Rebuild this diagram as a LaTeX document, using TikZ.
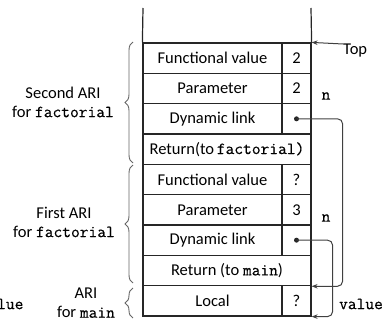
\documentclass[tikz,border=0pt]{standalone}
\usepackage{fontspec}
\setmainfont{Carlito}
\newfontfamily\codeface{Latin Modern Mono}[FakeBold=0.4]
\usetikzlibrary{calc,arrows.meta,decorations.pathreplacing}
% typewriter face for identifiers
\newcommand{\code}{\codeface\fontsize{17}{19}\selectfont}

\begin{document}
\begin{tikzpicture}[x=1pt,y=-1pt,
  every node/.style={font=\fontsize{16.5}{19}\selectfont, text=black},
  cell/.style={draw=black!85, line width=1.2pt, minimum height=30.33pt, inner sep=0pt},
  namecell/.style={cell, minimum width=139pt},
  valcell/.style={cell, minimum width=29pt},
  widecell/.style={cell, minimum width=168pt},
  wall/.style={draw=black!85, line width=1.2pt},
  linkdot/.style={circle, fill=black!85, inner sep=0pt, minimum size=5pt},
  link/.style={draw=black!75, line width=1pt, rounded corners=5pt,
               -{Stealth[length=6pt,width=4.5pt]}},
  ari/.style={draw=black!60, line width=0.9pt,
              decorate, decoration={brace, amplitude=8pt, aspect=0.5}},
  arilabel/.style={align=center, inner sep=0pt}]

\useasboundingbox (0,0) rectangle (386,321);

% second activation record of factorial (top of stack)
\node[namecell] (fv2)  at (212.5,58.17)  {Functional value};
\node[valcell]  (fv2v) at (296.5,58.17)  {2};
\node[namecell] (pa2)  at (212.5,88.5)   {Parameter};
\node[valcell]  (pa2v) at (296.5,88.5)   {2};
\node[namecell] (dl2)  at (212.5,118.83) {Dynamic link};
\node[valcell]  (dl2v) at (296.5,118.83) {};
\node[widecell] (rt2)  at (227,149.17)   {Return(to\,{\code factorial)}};

% first activation record of factorial
\node[namecell] (fv1)  at (212.5,179.5)  {Functional value};
\node[valcell]  (fv1v) at (296.5,179.5)  {?};
\node[namecell] (pa1)  at (212.5,209.83) {Parameter};
\node[valcell]  (pa1v) at (296.5,209.83) {3};
\node[namecell] (dl1)  at (212.5,240.17) {Dynamic link};
\node[valcell]  (dl1v) at (296.5,240.17) {};
\node[widecell] (rt1)  at (227,270.5)    {Return (to {\code main})};

% activation record of main
\node[namecell] (loc)  at (212.5,300.83) {Local};
\node[valcell]  (locv) at (296.5,300.83) {?};

% open upper part of the stack
\coordinate (wallL) at (143,8);
\coordinate (wallR) at (311,8);
\draw[wall] (wallL) -- (fv2.north west);
\draw[wall] (wallR) -- (fv2v.north east);

% top-of-stack pointer
\node[inner sep=0pt, anchor=north west] (top) at (343,44) {Top};
\draw[draw=black!75, line width=1pt, -{Stealth[length=6pt,width=4.5pt]}]
  (top.north west) -- (fv2v.north east);

% parameter names
\node (n2) at (326,96)  {\code n};
\node (n1) at (326,218) {\code n};
\node (valR) at (361,304) {\code value};
\node[anchor=east] (valL) at (27,304) {\code value};

% dynamic links
\node[linkdot] (d2) at (dl2v.center) {};
\node[linkdot] (d1) at (dl1v.center) {};
\draw[link] (d2.center) -| ($(rt1.south east)+(31,0)$) -- (rt1.south east);
\draw[link] (d1.center) -| ($(locv.south east)+(21,0)$) -- (locv.south east);

% braces grouping the activation records
\draw[ari] (133,163) -- (133,42);
\draw[ari] (133,283) -- (133,165);
\draw[ari] (133,318) -- (133,288);

\node[arilabel] (lab2) at (63,102) {Second ARI\\for {\code factorial}};
\node[arilabel] (lab1) at (64,222) {First ARI\\for {\code factorial}};
\node[arilabel] (labm) at (86,303) {ARI\\for {\code main}};
\end{tikzpicture}
\end{document}
